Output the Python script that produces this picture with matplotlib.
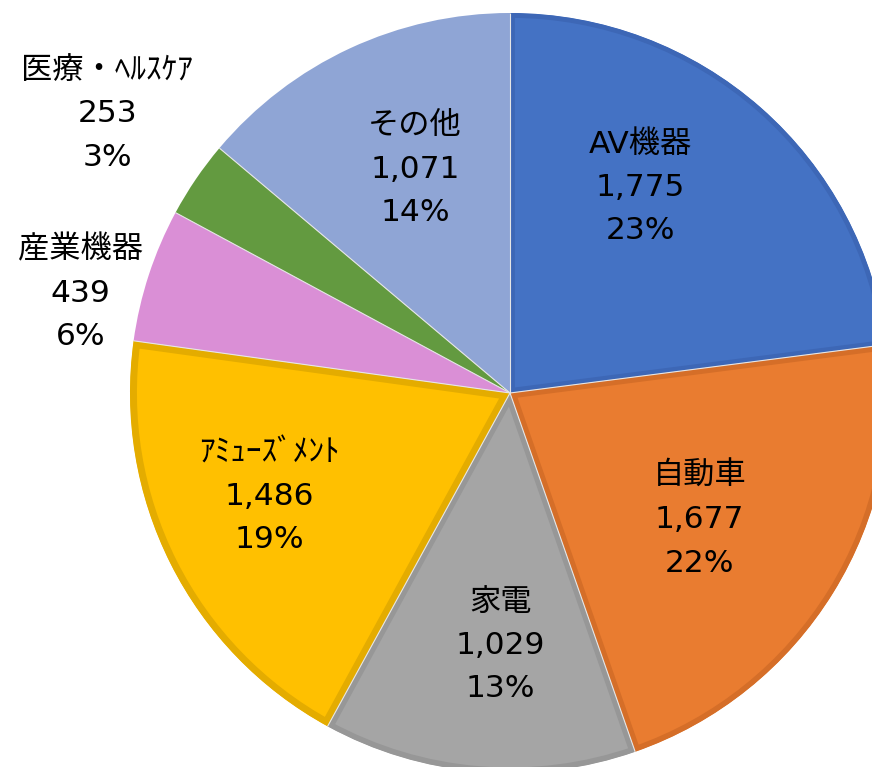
import matplotlib
matplotlib.use("Agg")
import matplotlib.pyplot as plt
import numpy as np

plt.rcParams['font.family'] = ['DejaVu Sans', 'Noto Sans CJK JP']

categories = ["AV機器", "自動車", "家電", "ｱﾐｭｰｽﾞﾒﾝﾄ", "産業機器", "医療・ﾍﾙｽｹｱ", "その他"]
values = [1775, 1677, 1029, 1486, 439, 253, 1071]
percents = ["23%", "22%", "13%", "19%", "6%", "3%", "14%"]

colors = ["#4472C4", "#E97C30", "#A5A5A5", "#FFC000", "#DA8FD6", "#639A40", "#8FA5D5"]
border_colors = ["#3D67B6", "#D56E28", "#979797", "#E4AC00", None, None, None]
border_widths = [7, 8, 8, 10, 0, 0, 0]
# label layout: (distance as fraction of radius, angle nudge in degrees)
label_layout = [(0.64, 9), (0.60, -2), (0.665, 2.5), (0.69, -3.5), (1.16, 5), (1.29, -0.5), (0.64, -2)]

W, H = 872, 767
fig = plt.figure(figsize=(W / 100, H / 100), dpi=100)
ax = fig.add_axes([0, 0, 1, 1])

cx, cy, R = 510, 374, 380
wedges, _ = ax.pie(values, colors=colors, startangle=90, counterclock=False,
                   center=(cx, cy), radius=R, frame=True,
                   wedgeprops=dict(linewidth=0))
ax.set_xlim(0, W)
ax.set_ylim(0, H)
ax.set_aspect('equal')
ax.axis('off')

for w, ec, lw in zip(wedges, border_colors, border_widths):
    if ec is not None:
        w.set_edgecolor(ec)
        w.set_linewidth(lw)
        w.set_clip_path(w)
        w.set_clip_on(True)

# thin light radial separators between slices
for w in wedges:
    a = np.deg2rad(w.theta1)
    ax.plot([cx, cx + R * np.cos(a)], [cy, cy + R * np.sin(a)],
            color='#E6E6E6', lw=0.8, solid_capstyle='butt')

for w, cat, v, p, (d, nudge) in zip(wedges, categories, values, percents, label_layout):
    ang = np.deg2rad((w.theta1 + w.theta2) / 2 + nudge)
    x = cx + d * R * np.cos(ang)
    y = cy + d * R * np.sin(ang)
    ax.text(x, y, f"{cat}\n{v:,}\n{p}", ha='center', va='center',
            fontsize=22.5, linespacing=1.63, color='black')

fig.savefig("out.png", dpi=100)
